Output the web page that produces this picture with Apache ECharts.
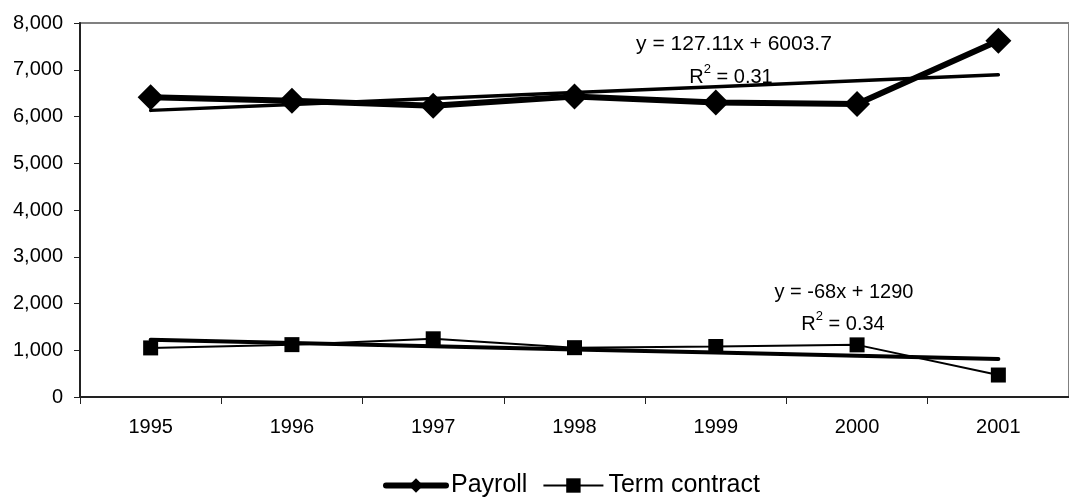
<!DOCTYPE html>
<html>
<head>
<meta charset="utf-8">
<script src="https://cdn.jsdelivr.net/npm/echarts@6/dist/echarts.min.js"></script>
<style>
html,body{margin:0;padding:0;background:#fff;}
#chart{width:1069px;height:504px;}
</style>
</head>
<body>
<div id="chart"></div>
<script>
var categories = ['1995', '1996', '1997', '1998', '1999', '2000', '2001'];
var payroll = [6410, 6335, 6230, 6430, 6300, 6265, 7620];
var termContract = [1050, 1120, 1245, 1055, 1080, 1115, 470];
var payrollTrend = [6131, 6258, 6385, 6512, 6639, 6766, 6893];
var termTrend = [1222, 1154, 1086, 1018, 950, 882, 814];
var payrollEq = 'y = 127.11x + 6003.7';
var payrollR2 = ' = 0.31';
var termEq = 'y = -68x + 1290';
var termR2 = ' = 0.34';

var FONT = 'Liberation Sans, Arial, sans-serif';
var chart = echarts.init(document.getElementById('chart'), null, {renderer: 'canvas'});

function r2Text(val) {
  return {
    text: '{a|R}{s|2}{a|' + val + '}',
    rich: {
      a: {fontSize: 20, fontFamily: FONT, fill: '#000', lineHeight: 24, verticalAlign: 'bottom'},
      s: {fontSize: 13, fontFamily: FONT, fill: '#000', lineHeight: 24, verticalAlign: 'top'}
    },
    align: 'center',
    verticalAlign: 'middle'
  };
}

var option = {
  animation: false,
  backgroundColor: '#fff',
  textStyle: {fontFamily: FONT, color: '#000'},
  grid: {
    left: 80, top: 23, width: 999, height: 374,
    show: true, borderColor: '#808080', borderWidth: 2, backgroundColor: 'transparent'
  },
  legend: {
    left: 383, top: 473, padding: 0,
    itemWidth: 60, itemHeight: 18, itemGap: 15,
    selectedMode: false,
    data: [
      {name: 'Payroll', lineStyle: {width: 6, cap: 'round'}},
      {name: 'Term contract', lineStyle: {width: 2}}
    ],
    textStyle: {fontSize: 25, fontFamily: FONT, color: '#000'}
  },
  xAxis: {
    type: 'category',
    data: categories,
    boundaryGap: true,
    axisLine: {lineStyle: {color: '#222', width: 2}},
    axisTick: {show: true, length: 7, lineStyle: {color: '#222', width: 1}},
    axisLabel: {fontSize: 20, fontFamily: FONT, color: '#000', margin: 20}
  },
  yAxis: {
    type: 'value',
    min: 0, max: 8000, interval: 1000,
    splitLine: {show: false},
    axisLine: {show: true, lineStyle: {color: '#222', width: 2}},
    axisTick: {show: true, length: 6, lineStyle: {color: '#222', width: 1}},
    axisLabel: {
      fontSize: 20, fontFamily: FONT, color: '#000', margin: 17,
      formatter: function (v) { return v.toLocaleString('en-US'); }
    }
  },
  series: [
    {
      name: 'Payroll trend', type: 'line', data: payrollTrend,
      symbol: 'none', silent: true,
      lineStyle: {color: '#000', width: 3.5, cap: 'round'}, z: 2
    },
    {
      name: 'Term contract trend', type: 'line', data: termTrend,
      symbol: 'none', silent: true,
      lineStyle: {color: '#000', width: 4, cap: 'round'}, z: 2
    },
    {
      name: 'Payroll', type: 'line', data: payroll,
      symbol: 'diamond', symbolSize: 26,
      itemStyle: {color: '#000'},
      lineStyle: {color: '#000', width: 6}, z: 3
    },
    {
      name: 'Term contract', type: 'line', data: termContract,
      symbol: 'rect', symbolSize: 15,
      itemStyle: {color: '#000'},
      lineStyle: {color: '#000', width: 2}, z: 3
    }
  ],
  graphic: [
    {type: 'text', x: 734, y: 44, z: 10,
      style: {text: payrollEq, fontSize: 21, fontFamily: FONT, fill: '#000', align: 'center', verticalAlign: 'middle'}},
    {type: 'text', x: 731, y: 75, z: 10, style: r2Text(payrollR2)},
    {type: 'text', x: 844, y: 292, z: 10,
      style: {text: termEq, fontSize: 20, fontFamily: FONT, fill: '#000', align: 'center', verticalAlign: 'middle'}},
    {type: 'text', x: 843, y: 322, z: 10, style: r2Text(termR2)}
  ]
};
chart.setOption(option);
</script>
</body>
</html>
